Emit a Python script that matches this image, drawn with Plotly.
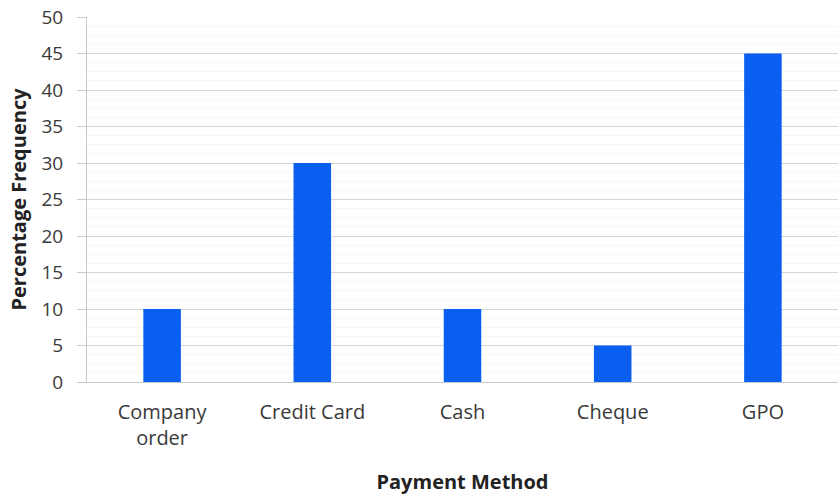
import plotly.graph_objects as go

# Payment method survey results
categories = ["Company<br>order", "Credit Card", "Cash", "Cheque", "GPO"]
percent = [10, 30, 10, 5, 45]
y_ticks = [0, 5, 10, 15, 20, 25, 30, 35, 40, 45, 50]

fig = go.Figure(
    go.Bar(
        x=categories,
        y=percent,
        marker=dict(color="#0b5ff0", line=dict(width=0)),
    )
)

font_family = "Open Sans, Noto Sans, sans-serif"

fig.update_layout(
    width=838,
    height=498,
    margin=dict(l=87, r=0, t=17, b=116),
    paper_bgcolor="white",
    plot_bgcolor="white",
    bargap=0.75,
    showlegend=False,
    font=dict(family=font_family, color="#333333"),
)

fig.update_xaxes(
    showline=True,
    linecolor="#c8c8c8",
    linewidth=1,
    tickfont=dict(size=20, color="#3a3a3a"),
    ticks="",
    ticklabelstandoff=12,
    title=dict(
        text="<b>Payment Method</b>",
        font=dict(size=20, color="#222222"),
        standoff=24,
    ),
)

fig.update_yaxes(
    range=[0, 50],
    tickvals=y_ticks,
    tickfont=dict(size=19, color="#3a3a3a"),
    showgrid=True,
    gridcolor="#d3d7dc",
    gridwidth=1,
    zeroline=False,
    showline=True,
    linecolor="#c8c8c8",
    ticks="outside",
    ticklen=9,
    tickcolor="#c8c8c8",
    ticklabelstandoff=10,
    minor=dict(dtick=1.25, showgrid=True, gridcolor="#f5f6f7", gridwidth=1),
    title=dict(
        text="<b>Percentage Frequency</b>",
        font=dict(size=20, color="#222222"),
        standoff=9,
    ),
)

fig.write_html("out.html")
